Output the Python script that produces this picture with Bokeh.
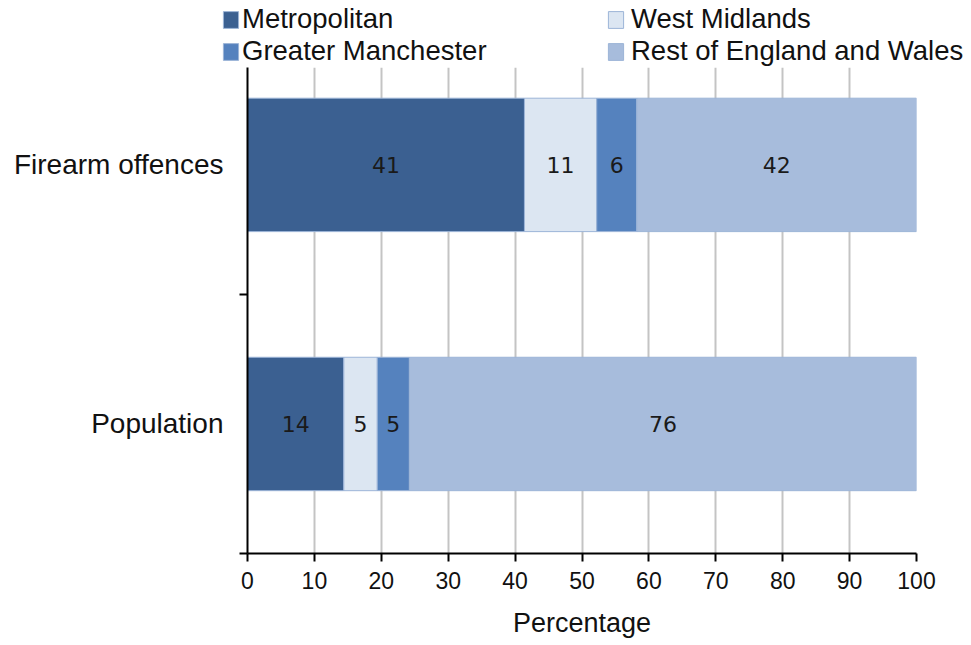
from bokeh.plotting import figure
from bokeh.layouts import column
from bokeh.models import Legend, LegendItem, FixedTicker, Range1d
from bokeh.core.properties import value
from bokeh.embed import file_html
from bokeh.resources import INLINE

# ---- data ----
categories = ["Population", "Firearm offences"]
series_names = ["Metropolitan", "West Midlands", "Greater Manchester", "Rest of England and Wales"]
metropolitan = [14.4, 41.4]
west_midlands = [5.0, 10.8]
greater_manchester = [4.8, 6.0]
rest_of_england_wales = [75.8, 41.8]
x_ticks = [0, 10, 20, 30, 40, 50, 60, 70, 80, 90, 100]

colors = ["#3B6091", "#DCE6F2", "#5582BE", "#A7BCDC"]
series_values = [metropolitan, west_midlands, greater_manchester, rest_of_england_wales]

FONT = "Liberation Sans"
BAR_LINE = "#9CB4D7"

ypos = [i + 0.5 for i in range(len(categories))]

# ---- main chart ----
p = figure(width=971, height=578, output_backend="svg", toolbar_location=None,
           x_range=Range1d(0, 100), y_range=Range1d(0, 1.876),
           min_border_left=247, min_border_right=55, min_border_top=0, min_border_bottom=92)
p.frame_align = False
p.outline_line_color = None

# ---- legend strip (its own figure so the legend can span the full width) ----
lg = figure(width=971, height=67, output_backend="svg", toolbar_location=None,
            x_range=Range1d(0, 100), y_range=Range1d(10, 11),
            min_border_left=0, min_border_right=0, min_border_top=0, min_border_bottom=0)
lg.frame_align = False
lg.axis.visible = False
lg.grid.visible = False
lg.outline_line_color = None

leg_renderers = []
left = [0.0] * len(categories)
for name, vals, col in zip(series_names, series_values, colors):
    right = [l + v for l, v in zip(left, vals)]
    p.hbar(y=ypos, left=left, right=right, height=0.515,
           fill_color=col, line_color=BAR_LINE, line_width=1)
    # same bars in the legend strip, outside its visible y range: only feed the legend swatches
    leg_renderers.append(lg.hbar(y=ypos, left=left, right=right, height=0.515,
                                 fill_color=col, line_color=BAR_LINE, line_width=1))
    mids = [(l + rr) / 2 for l, rr in zip(left, right)]
    p.text(x=mids, y=ypos, text=[str(int(round(v))) for v in vals],
           text_align="center", text_baseline="middle",
           text_font=value("DejaVu Sans"), text_font_size="22px", text_color="#1a1a1a")
    left = right

# x axis
p.xaxis.ticker = FixedTicker(ticks=x_ticks)
p.xaxis.axis_label = "Percentage"
p.xaxis.axis_label_text_font = FONT
p.xaxis.axis_label_text_font_style = "normal"
p.xaxis.axis_label_text_font_size = "27px"
p.xaxis.axis_label_text_color = "#111111"
p.xaxis.axis_label_standoff = 16
p.xaxis.major_label_text_font = FONT
p.xaxis.major_label_text_font_size = "23px"
p.xaxis.major_label_text_color = "#111111"
p.xaxis.major_label_standoff = 10
p.xaxis.major_tick_out = 8
p.xaxis.major_tick_in = 0
p.xaxis.minor_tick_out = 0
p.xaxis.axis_line_width = 2
p.xaxis.major_tick_line_width = 2
p.xaxis.axis_line_color = "black"

# y axis
p.yaxis.ticker = FixedTicker(ticks=ypos, minor_ticks=[0, 1])
p.yaxis.major_label_overrides = {y: c for y, c in zip(ypos, categories)}
p.yaxis.major_label_text_font = FONT
p.yaxis.major_label_text_font_size = "28px"
p.yaxis.major_label_text_color = "#111111"
p.yaxis.major_label_standoff = 16
p.yaxis.major_tick_out = 0
p.yaxis.major_tick_in = 0
p.yaxis.minor_tick_out = 8
p.yaxis.minor_tick_in = 0
p.yaxis.minor_tick_line_width = 2
p.yaxis.minor_tick_line_color = "black"
p.yaxis.axis_line_width = 2
p.yaxis.axis_line_color = "black"

p.xgrid.grid_line_color = "#C4C4C4"
p.xgrid.grid_line_width = 2
p.ygrid.grid_line_color = None

def col_legend(idx, x, standoff):
    return Legend(items=[LegendItem(label=series_names[i], renderers=[leg_renderers[i]]) for i in idx],
                  location=(x, 0), orientation="vertical",
                  label_text_font=FONT, label_text_font_size="27.5px", label_text_color="#111111",
                  glyph_width=19, glyph_height=21, label_standoff=standoff, label_height=22,
                  spacing=0, padding=0, margin=0,
                  background_fill_alpha=0, border_line_color=None)

lg.add_layout(col_legend([0, 2], 221, 2))
lg.add_layout(col_legend([1, 3], 606, 6))

open("out.html", "w").write(file_html(column(lg, p), INLINE))
